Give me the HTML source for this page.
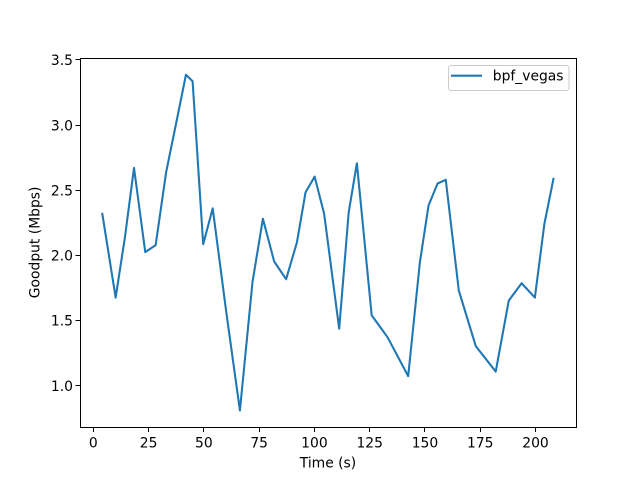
<!DOCTYPE html>
<html>
<head>
<meta charset="utf-8">
<title>Goodput over time</title>
<style>
  html, body { margin: 0; padding: 0; background: #fff; }
  svg { display: block; }
  text { font-family: "DejaVu Sans", "Liberation Sans", sans-serif; font-size: 13.89px; fill: #000; }
</style>
</head>
<body>
<svg id="chart" xmlns="http://www.w3.org/2000/svg" width="640" height="480" viewBox="0 0 640 480">
  <rect x="0" y="0" width="640" height="480" fill="#ffffff"/>
  <rect x="80" y="58" width="496" height="369" fill="#ffffff"/>
  <g id="ticks"></g>
  <polyline id="series" fill="none" stroke="#1f77b4" stroke-width="2.08" stroke-linejoin="round" stroke-linecap="square"></polyline>
  <rect x="80.5" y="58.5" width="496" height="369" fill="none" stroke="#000" stroke-width="1"/>
  <text x="328" y="467.5" text-anchor="middle">Time (s)</text>
  <text transform="translate(39.5 242.4) rotate(-90)" text-anchor="middle">Goodput (Mbps)</text>
  <g>
    <rect x="448.5" y="65.5" width="120.5" height="25" rx="2.8" ry="2.8" fill="#ffffff" fill-opacity="0.8" stroke="#cccccc" stroke-width="1"/>
    <line x1="452" y1="75.7" x2="481" y2="75.7" stroke="#1f77b4" stroke-width="2.08" stroke-linecap="square"/>
    <text x="492.8" y="80.6">bpf_vegas</text>
  </g>
</svg>
<script>
const timeValues = [4.07, 10.1, 14.3, 18.4, 23.5, 28.2, 32.9, 37, 41.9, 44.9, 49.7, 54, 60.2, 66.3, 72, 76.7, 81.8, 87.2, 92.1, 96, 100.1, 104.4, 111.2, 115.5, 119.2, 125.9, 133.1, 142.4, 147.7, 151.6, 155.7, 159.4, 165.3, 173, 182, 187.9, 193.7, 199.7, 204, 208.1];
const goodputValues = [2.318, 1.675, 2.138, 2.671, 2.024, 2.078, 2.635, 2.975, 3.386, 3.336, 2.085, 2.36, 1.555, 0.808, 1.795, 2.28, 1.952, 1.816, 2.1, 2.484, 2.604, 2.318, 1.436, 2.33, 2.706, 1.539, 1.37, 1.072, 1.946, 2.382, 2.551, 2.579, 1.729, 1.301, 1.107, 1.652, 1.785, 1.675, 2.241, 2.587];
const xTickValues = [0, 25, 50, 75, 100, 125, 150, 175, 200];
const xTickLabels = ['0', '25', '50', '75', '100', '125', '150', '175', '200'];
const yTickValues = [1.0, 1.5, 2.0, 2.5, 3.0, 3.5];
const yTickLabels = ['1.0', '1.5', '2.0', '2.5', '3.0', '3.5'];

const SVG_NS = 'http://www.w3.org/2000/svg';
const plot = { left: 80, right: 576, top: 57.6, bottom: 427.2 };
const xDomain = [-6.02, 218.3];
const yDomain = [0.6798, 3.5176];

function xScale(v) {
  return plot.left + (v - xDomain[0]) / (xDomain[1] - xDomain[0]) * (plot.right - plot.left);
}
function yScale(v) {
  return plot.bottom - (v - yDomain[0]) / (yDomain[1] - yDomain[0]) * (plot.bottom - plot.top);
}
function snap(p) {
  return Math.floor(p) + 0.5;
}

const ticksGroup = document.getElementById('ticks');

xTickValues.forEach(function (value, i) {
  const x = xScale(value);
  const tick = document.createElementNS(SVG_NS, 'line');
  
  
  tick.setAttribute('x1', snap(x));
  tick.setAttribute('x2', snap(x));
  tick.setAttribute('y1', 428);
  tick.setAttribute('y2', 432);
  tick.setAttribute('stroke', '#000');
  tick.setAttribute('stroke-width', '1');
  ticksGroup.appendChild(tick);

  const label = document.createElementNS(SVG_NS, 'text');
  
  
  label.setAttribute('x', x);
  label.setAttribute('y', 447.6);
  label.setAttribute('text-anchor', 'middle');
  label.textContent = xTickLabels[i];
  ticksGroup.appendChild(label);
});

yTickValues.forEach(function (value, i) {
  const y = yScale(value);
  const tick = document.createElementNS(SVG_NS, 'line');
  
  
  tick.setAttribute('x1', 75.5);
  tick.setAttribute('x2', 80);
  tick.setAttribute('y1', snap(y));
  tick.setAttribute('y2', snap(y));
  tick.setAttribute('stroke', '#000');
  tick.setAttribute('stroke-width', '1');
  ticksGroup.appendChild(tick);

  const label = document.createElementNS(SVG_NS, 'text');
  
  
  label.setAttribute('x', 73);
  label.setAttribute('y', y + 5.3);
  label.setAttribute('text-anchor', 'end');
  label.textContent = yTickLabels[i];
  ticksGroup.appendChild(label);
});

const points = timeValues.map(function (t, i) {
  return xScale(t).toFixed(2) + ',' + yScale(goodputValues[i]).toFixed(2);
});
document.getElementById('series').setAttribute('points', points.join(' '));
</script>
</body>
</html>
